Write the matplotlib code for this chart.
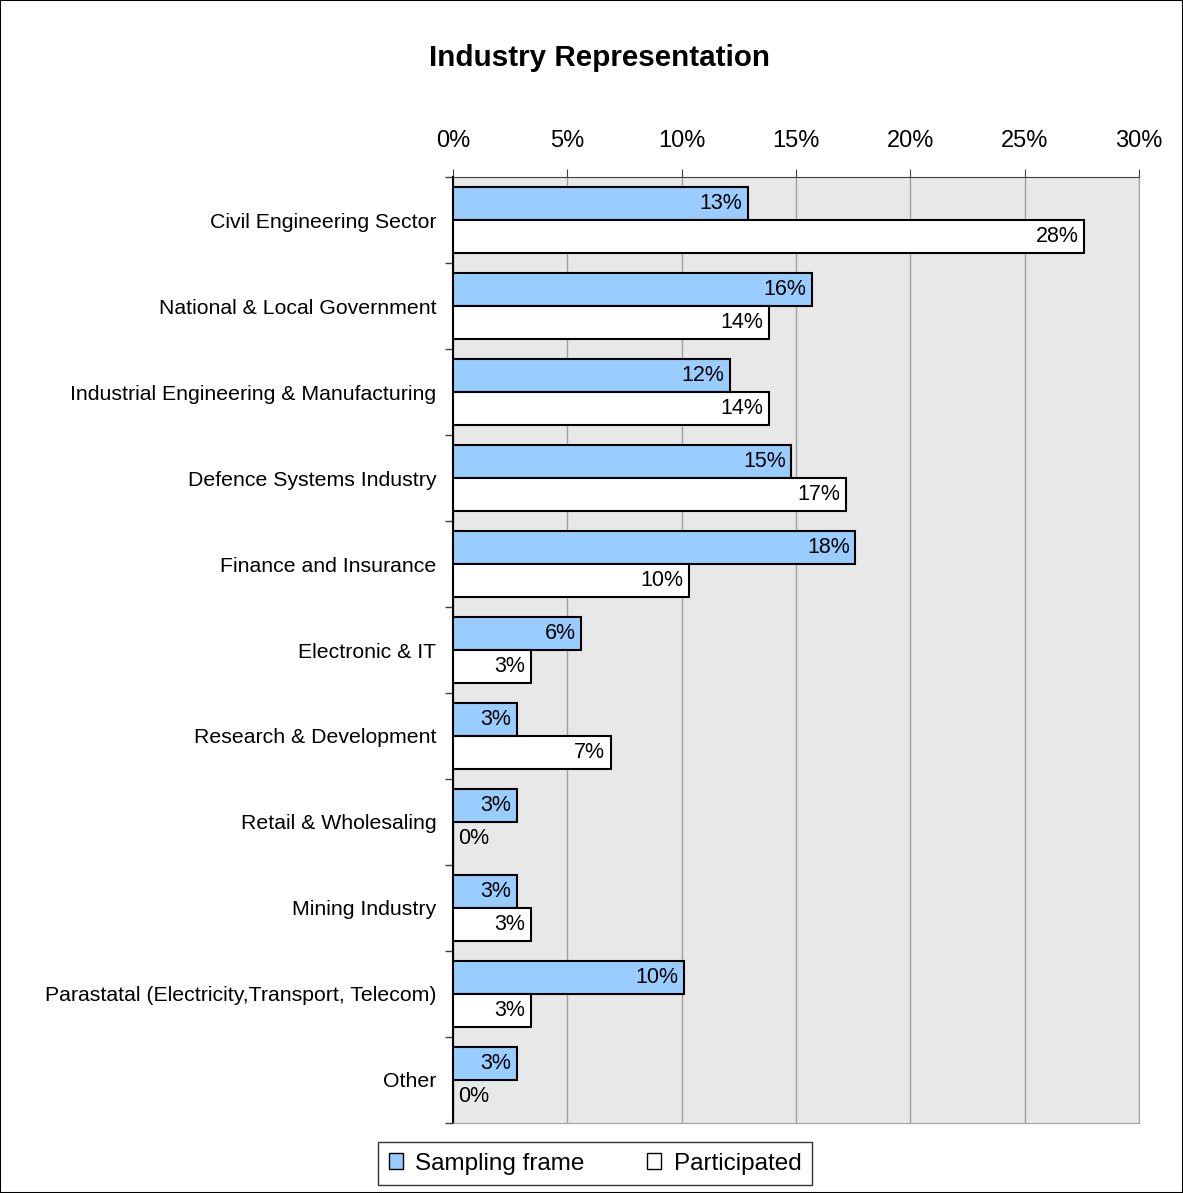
import numpy as np
import matplotlib.pyplot as plt
from matplotlib.patches import Rectangle

plt.rcParams['font.family'] = ['Liberation Sans', 'DejaVu Sans']

# Industry shares (%)
industries = ["Civil Engineering Sector", "National & Local Government",
              "Industrial Engineering & Manufacturing", "Defence Systems Industry",
              "Finance and Insurance", "Electronic & IT", "Research & Development",
              "Retail & Wholesaling", "Mining Industry",
              "Parastatal (Electricity,Transport, Telecom)", "Other"]
sampling_frame = [12.9, 15.7, 12.1, 14.8, 17.6, 5.6, 2.8, 2.8, 2.8, 10.1, 2.8]
participated = [27.6, 13.8, 13.8, 17.2, 10.3, 3.4, 6.9, 0.0, 3.4, 3.4, 0.0]
x_ticks = [0, 5, 10, 15, 20, 25, 30]

fig = plt.figure(figsize=(11.83, 11.93), dpi=100)
fig.patches.append(Rectangle((0, 0), 1, 1, transform=fig.transFigure,
                             fill=False, edgecolor="black", linewidth=1.5))
ax = fig.add_axes([0.3829, 0.0587, 0.5799, 0.7929])

ax.set_facecolor("#E8E8E8")
fig.text(0.507, 0.951, "Industry Representation", fontsize=21.3, fontweight="bold",
         ha="center", va="center")

y = np.arange(len(industries))
h = 0.385
b1 = ax.barh(y - h/2, sampling_frame, height=h, color="#99CCFF",
             edgecolor="black", linewidth=1.5, label="Sampling frame", zorder=3)
b2 = ax.barh(y + h/2, participated, height=h, color="white",
             edgecolor="black", linewidth=1.5, label="Participated", zorder=3)

# Value labels at the bar ends
for bars, vals in [(b1, sampling_frame), (b2, participated)]:
    for bar, v in zip(bars, vals):
        cy = bar.get_y() + bar.get_height()/2
        if v > 0:
            ax.annotate(f"{v:.0f}%", (v, cy), xytext=(-4, 0), textcoords="offset points",
                        ha="right", va="center", fontsize=15.5, zorder=4)
        else:
            ax.annotate(f"{v:.0f}%", (0, cy), xytext=(4, 0), textcoords="offset points",
                        ha="left", va="center", fontsize=15.5, zorder=4)

ax.set_xlim(0, 30)
ax.set_ylim(len(industries) - 0.5, -0.5)
ax.xaxis.tick_top()
ax.set_xticks(x_ticks)
ax.set_xticklabels([f"{t}%" for t in x_ticks], fontsize=17)
ax.tick_params(axis="x", length=6, color="#404040", pad=12)
ax.grid(axis="x", color="#A0A0A0", linewidth=1, zorder=0)

# Category labels between boundary ticks
ax.set_yticks(y)
ax.set_yticklabels(industries, fontsize=15.3)
ax.set_yticks(np.arange(len(industries) + 1) - 0.5, minor=True)
ax.tick_params(axis="y", which="major", length=0, pad=12)
ax.tick_params(axis="y", which="minor", length=6, width=1, color="#404040")

ax.spines["left"].set_color("black")
ax.spines["left"].set_linewidth(1.5)
ax.spines["top"].set_color("#404040")
for s in ["right", "bottom"]:
    ax.spines[s].set_color("#A0A0A0")

handles, labels = ax.get_legend_handles_labels()
leg = fig.legend(handles, labels, loc="center", bbox_to_anchor=(0.503, 0.0247), ncol=2,
                 fontsize=17.5, frameon=True, fancybox=False, edgecolor="black",
                 handlelength=0.6, handleheight=0.6, handletextpad=0.5,
                 columnspacing=2.55, borderpad=0.45)
leg.get_frame().set_linewidth(1)
for p in leg.get_patches():
    p.set_linewidth(1)

fig.savefig("out.png", dpi=100)
